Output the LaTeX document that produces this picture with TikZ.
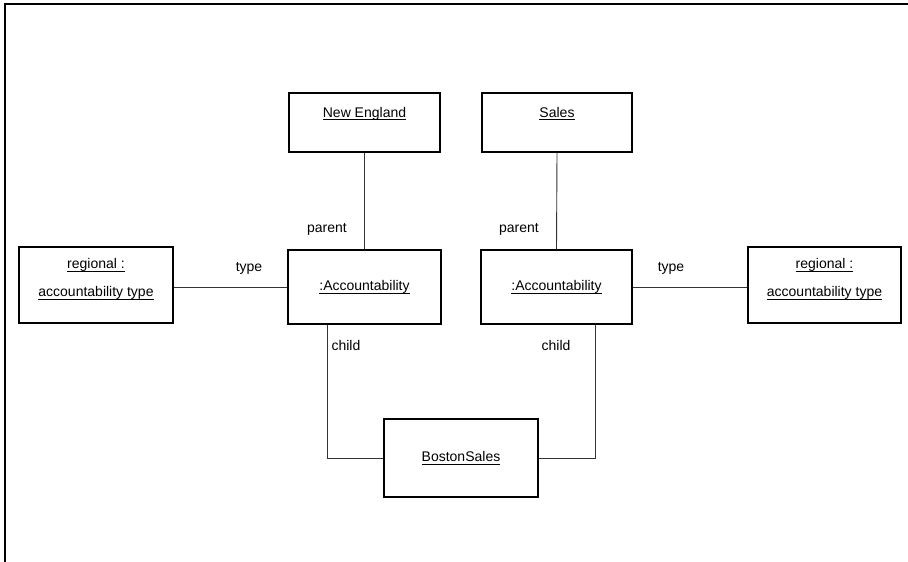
\documentclass[tikz,border=0pt]{standalone}
\usepackage{fontspec}
\setmainfont{Liberation Sans}
% underlined object name, rule just below the baseline
\newcommand\objname[1]{\setbox0\hbox{#1}\rlap{\rule[-2.6pt]{\wd0}{0.7pt}}\box0}
\begin{document}
\begin{tikzpicture}[x=1pt,y=-1pt,
  objbox/.style={draw=black,line width=1.1pt,minimum width=#1,inner sep=0pt},
  conn/.style={draw=black!80,line width=0.9pt},
  txt/.style={inner sep=0pt,font=\fontsize{14}{17}\selectfont,align=center},
  frameline/.style={line width=2pt,line cap=rect}]
  \useasboundingbox (0,0) rectangle (908,562);
  % frame
  \draw[frameline] (5,562) -- (5,4) -- (908,4);

  % objects
  \node[objbox=151pt,minimum height=59pt] (ne) at (364.5,122.5) {};
  \node[txt] (netxt) at ([yshift=9pt]ne.center) {\objname{New England}};
  \node[objbox=150pt,minimum height=59pt] (sales) at (557,122.5) {};
  \node[txt] (salestxt) at ([yshift=9pt]sales.center) {\objname{Sales}};
  \node[objbox=153pt,minimum height=74pt,txt] (accA) at (364.5,287) {\objname{:Accountability}};
  \node[objbox=151pt,minimum height=74pt,txt] (accB) at (556.5,287) {\objname{:Accountability}};
  \node[objbox=154pt,minimum height=76pt] (regA) at (96,285) {};
  \node[txt] (regAtxt) at ([yshift=6pt]regA.center) {\objname{regional :}\\[11pt]\objname{accountability type}};
  \node[objbox=153pt,minimum height=76pt] (regB) at (824.5,285) {};
  \node[txt] (regBtxt) at ([yshift=6pt]regB.center) {\objname{regional :}\\[11pt]\objname{accountability type}};
  \node[objbox=154pt,minimum height=78pt,txt] (boston) at (461,458) {\objname{BostonSales}};

  % links
  \draw[conn] (ne.south) -- (accA.north);
  \draw[conn] (sales.south) -- (accB.north);
  \draw[conn] (accA.west) -- (accA.west -| regA.east);
  \draw[conn] (accB.east) -- (accB.east -| regB.west);
  \coordinate (childA) at ([xshift=-37.5pt]accA.south);
  \coordinate (childB) at ([xshift=38.5pt]accB.south);
  \draw[conn] (childA) |- (boston.west);
  \draw[conn] (childB) |- (boston.east);

  % role names
  \node[txt] (parentA) at (327,229) {parent};
  \node[txt] (parentB) at (519,229) {parent};
  \node[txt] (typeA) at (249,268) {type};
  \node[txt] (typeB) at (671,268) {type};
  \node[txt] (childAl) at (346,345) {child};
  \node[txt] (childBl) at (556,345) {child};
\end{tikzpicture}
\end{document}
